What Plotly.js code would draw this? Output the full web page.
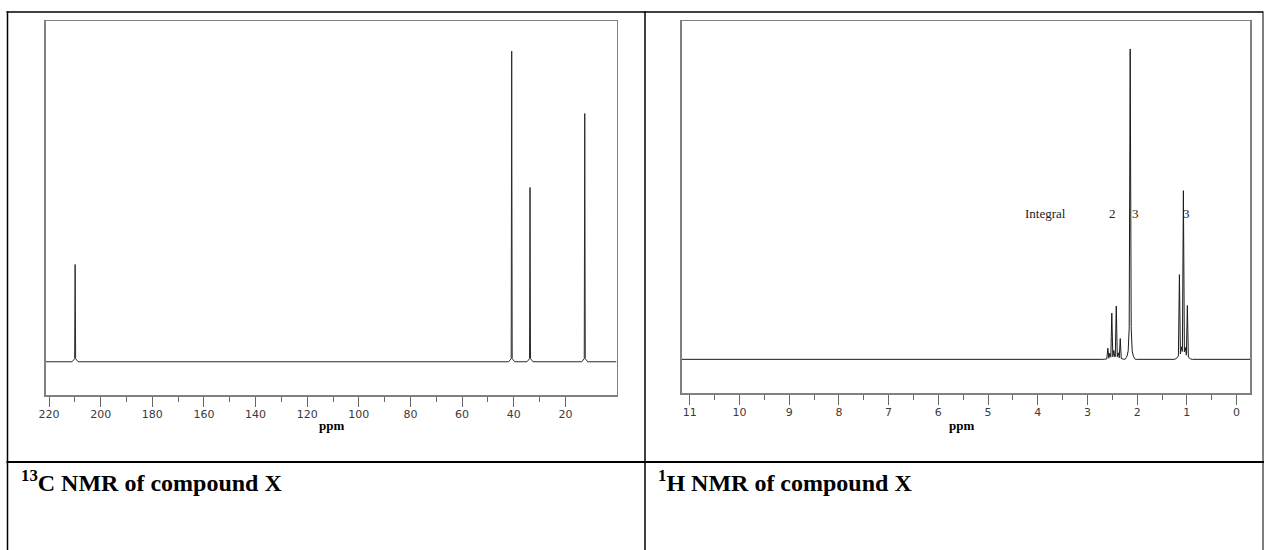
<!DOCTYPE html>
<html>
<head>
<meta charset="utf-8">
<script src="https://cdn.plot.ly/plotly-3.0.1.min.js"></script>
<style>
  html, body { margin: 0; padding: 0; background: #fff; }
  #chart { width: 1264px; height: 550px; }
</style>
</head>
<body>
<div id="chart"></div>
<script>
// ---------- data ----------
// 13C NMR: peak positions (ppm) and relative intensities
const c13Shift = [209.9, 40.8, 33.7, 12.5];
const c13Intensity = [31.3, 100, 56.1, 79.9];

// 1H NMR: line positions (ppm) and relative intensities
const h1Shift = [2.59, 2.55, 2.51, 2.47, 2.42, 2.38, 2.34, 2.16, 2.14, 2.12, 1.15, 1.11, 1.07, 1.03, 0.99];
const h1Intensity = [3.5, 1.5, 14.8, 2.2, 17.1, 1.5, 6.6, 6.0, 100, 6.0, 27.1, 2.0, 54.3, 2.0, 17.1];

// axis ticks
const c13MajorTicks = [220, 200, 180, 160, 140, 120, 100, 80, 60, 40, 20];
const c13MinorTicks = [210, 190, 170, 150, 130, 110, 90, 70, 50, 30];
const h1MajorTicks = [11, 10, 9, 8, 7, 6, 5, 4, 3, 2, 1, 0];
const h1MinorTicks = [10.5, 9.5, 8.5, 7.5, 6.5, 5.5, 4.5, 3.5, 2.5, 1.5, 0.5];

// integral labels
const integralLabels = ['Integral', '2', '3', '3'];
const integralPos = [3.84, 2.49, 2.04, 1.00];

// ---------- layout geometry (pixels) ----------
const W = 1264, H = 550;
const leftBox = {x0: 45.7, x1: 616.5, yTop: 21.3, yBot: 395};
const rightBox = {x0: 681.8, x1: 1250, yTop: 21.3, yBot: 393.3};
const c13Range = [221.3, 0.2];
const h1Range = [11.16, -0.27];
const c13YRange = [-10.7, 109.6];
const h1YRange = [-11.0, 109.5];

// build a line spectrum from the peak list; shape template in pixel offsets
function buildSpectrum(shifts, heights, range, box, template) {
  const pxPerPpm = (box.x1 - box.x0) / Math.abs(range[0] - range[1]);
  const xs = new Set([range[0], range[1]]);
  shifts.forEach(p => {
    template.forEach(t => {
      xs.add(p + t[0] / pxPerPpm);
      xs.add(p - t[0] / pxPerPpm);
    });
  });
  const xArr = Array.from(xs).sort((a, b) => b - a);
  const yArr = xArr.map(x => {
    let s = 0;
    shifts.forEach((p, i) => {
      const h = heights[i];
      const d = Math.abs(x - p) * pxPerPpm;
      for (let k = 0; k < template.length - 1; k++) {
        const a = template[k], b = template[k + 1];
        if (d >= a[0] && d <= b[0]) {
          const va = a[1](h), vb = b[1](h);
          const f = (b[0] === a[0]) ? 0 : (d - a[0]) / (b[0] - a[0]);
          s += va + (vb - va) * f;
          break;
        }
      }
    });
    return s;
  });
  return {x: xArr, y: yArr};
}

const c13Template = [[0, h => h], [0.5, h => Math.min(h, 1.0)], [3, h => 0]];
const h1Template = [[0, h => h], [1, h => 0.04 * h], [3, h => 0.01 * h], [5, h => 0]];

const c13 = buildSpectrum(c13Shift, c13Intensity, c13Range, leftBox, c13Template);
const h1 = buildSpectrum(h1Shift, h1Intensity, h1Range, rightBox, h1Template);

const traces = [
  {x: c13.x, y: c13.y, type: 'scatter', mode: 'lines', xaxis: 'x', yaxis: 'y',
   line: {color: '#2a2a2a', width: 1, simplify: false}, hoverinfo: 'skip'},
  {x: h1.x, y: h1.y, type: 'scatter', mode: 'lines', xaxis: 'x2', yaxis: 'y2',
   line: {color: '#1a1a1a', width: 1, simplify: false}, hoverinfo: 'skip'}
];

const px = v => v / W;
const py = v => 1 - v / H;

const tickFont = {family: 'DejaVu Sans, Verdana, sans-serif', size: 11, color: '#3a3a3a'};
function xAxis(range, major, minor, box, anchor) {
  return {
    domain: [px(box.x0), px(box.x1)],
    range: range, anchor: anchor,
    tickmode: 'array', tickvals: major, ticktext: major.map(String),
    ticks: 'outside', ticklen: 10, tickwidth: 1, tickcolor: '#666',
    ticklabelstandoff: -2,
    minor: {tickmode: 'array', tickvals: minor, ticks: 'outside', ticklen: 5, tickwidth: 1, tickcolor: '#666', showgrid: false},
    showline: true, mirror: true, linecolor: '#808080', linewidth: 1.5,
    showgrid: false, zeroline: false, tickfont: tickFont, fixedrange: true
  };
}
function yAxis(range, box, anchor) {
  return {
    domain: [py(box.yBot), py(box.yTop)],
    range: range, anchor: anchor,
    showticklabels: false, ticks: '',
    showline: true, mirror: true, linecolor: '#808080', linewidth: 1.5,
    showgrid: false, zeroline: false, fixedrange: true
  };
}

const serif = 'Liberation Serif, Times New Roman, serif';
const annotations = [
  {xref: 'paper', yref: 'paper', x: px((leftBox.x0 + leftBox.x1) / 2), y: py(425), text: '<b>ppm</b>',
   showarrow: false, font: {family: serif, size: 13, color: '#000'}, xanchor: 'center', yanchor: 'middle'},
  {xref: 'paper', yref: 'paper', x: px(962), y: py(425), text: '<b>ppm</b>',
   showarrow: false, font: {family: serif, size: 13, color: '#000'}, xanchor: 'center', yanchor: 'middle'},
  {xref: 'paper', yref: 'paper', x: px(19), y: py(481), text: '<b><sup>13</sup>C NMR of compound X</b>',
   showarrow: false, font: {family: serif, size: 24, color: '#000'}, xanchor: 'left', yanchor: 'middle'},
  {xref: 'paper', yref: 'paper', x: px(656), y: py(481), text: '<b><sup>1</sup>H NMR of compound X</b>',
   showarrow: false, font: {family: serif, size: 24, color: '#000'}, xanchor: 'left', yanchor: 'middle'}
];
integralLabels.forEach((t, i) => {
  annotations.push({xref: 'x2', yref: 'y2', x: integralPos[i], y: 47.1, text: t, showarrow: false,
    font: {family: serif, size: 13, color: '#222'}, xanchor: 'center', yanchor: 'middle'});
});

const lineStyle = {color: '#000', width: 1.5};
const shapes = [
  {type: 'line', xref: 'paper', yref: 'paper', x0: px(6.5), x1: px(1263), y0: py(12), y1: py(12), line: lineStyle},
  {type: 'line', xref: 'paper', yref: 'paper', x0: px(7.5), x1: px(7.5), y0: py(11.3), y1: py(551), line: lineStyle},
  {type: 'line', xref: 'paper', yref: 'paper', x0: px(645), x1: px(645), y0: py(11.3), y1: py(551), line: lineStyle},
  {type: 'line', xref: 'paper', yref: 'paper', x0: px(1263), x1: px(1263), y0: py(11.3), y1: py(551), line: {color: '#000', width: 1}},
  {type: 'line', xref: 'paper', yref: 'paper', x0: px(6.5), x1: px(1264), y0: py(462), y1: py(462), line: {color: '#000', width: 2}}
];

const layout = {
  width: W, height: H,
  margin: {l: 0, r: 0, t: 0, b: 0},
  paper_bgcolor: '#fff', plot_bgcolor: '#fff',
  showlegend: false,
  xaxis: xAxis(c13Range, c13MajorTicks, c13MinorTicks, leftBox, 'y'),
  yaxis: yAxis(c13YRange, leftBox, 'x'),
  xaxis2: xAxis(h1Range, h1MajorTicks, h1MinorTicks, rightBox, 'y2'),
  yaxis2: yAxis(h1YRange, rightBox, 'x2'),
  annotations: annotations,
  shapes: shapes
};

Plotly.newPlot('chart', traces, layout, {staticPlot: true, displayModeBar: false});
</script>
</body>
</html>
